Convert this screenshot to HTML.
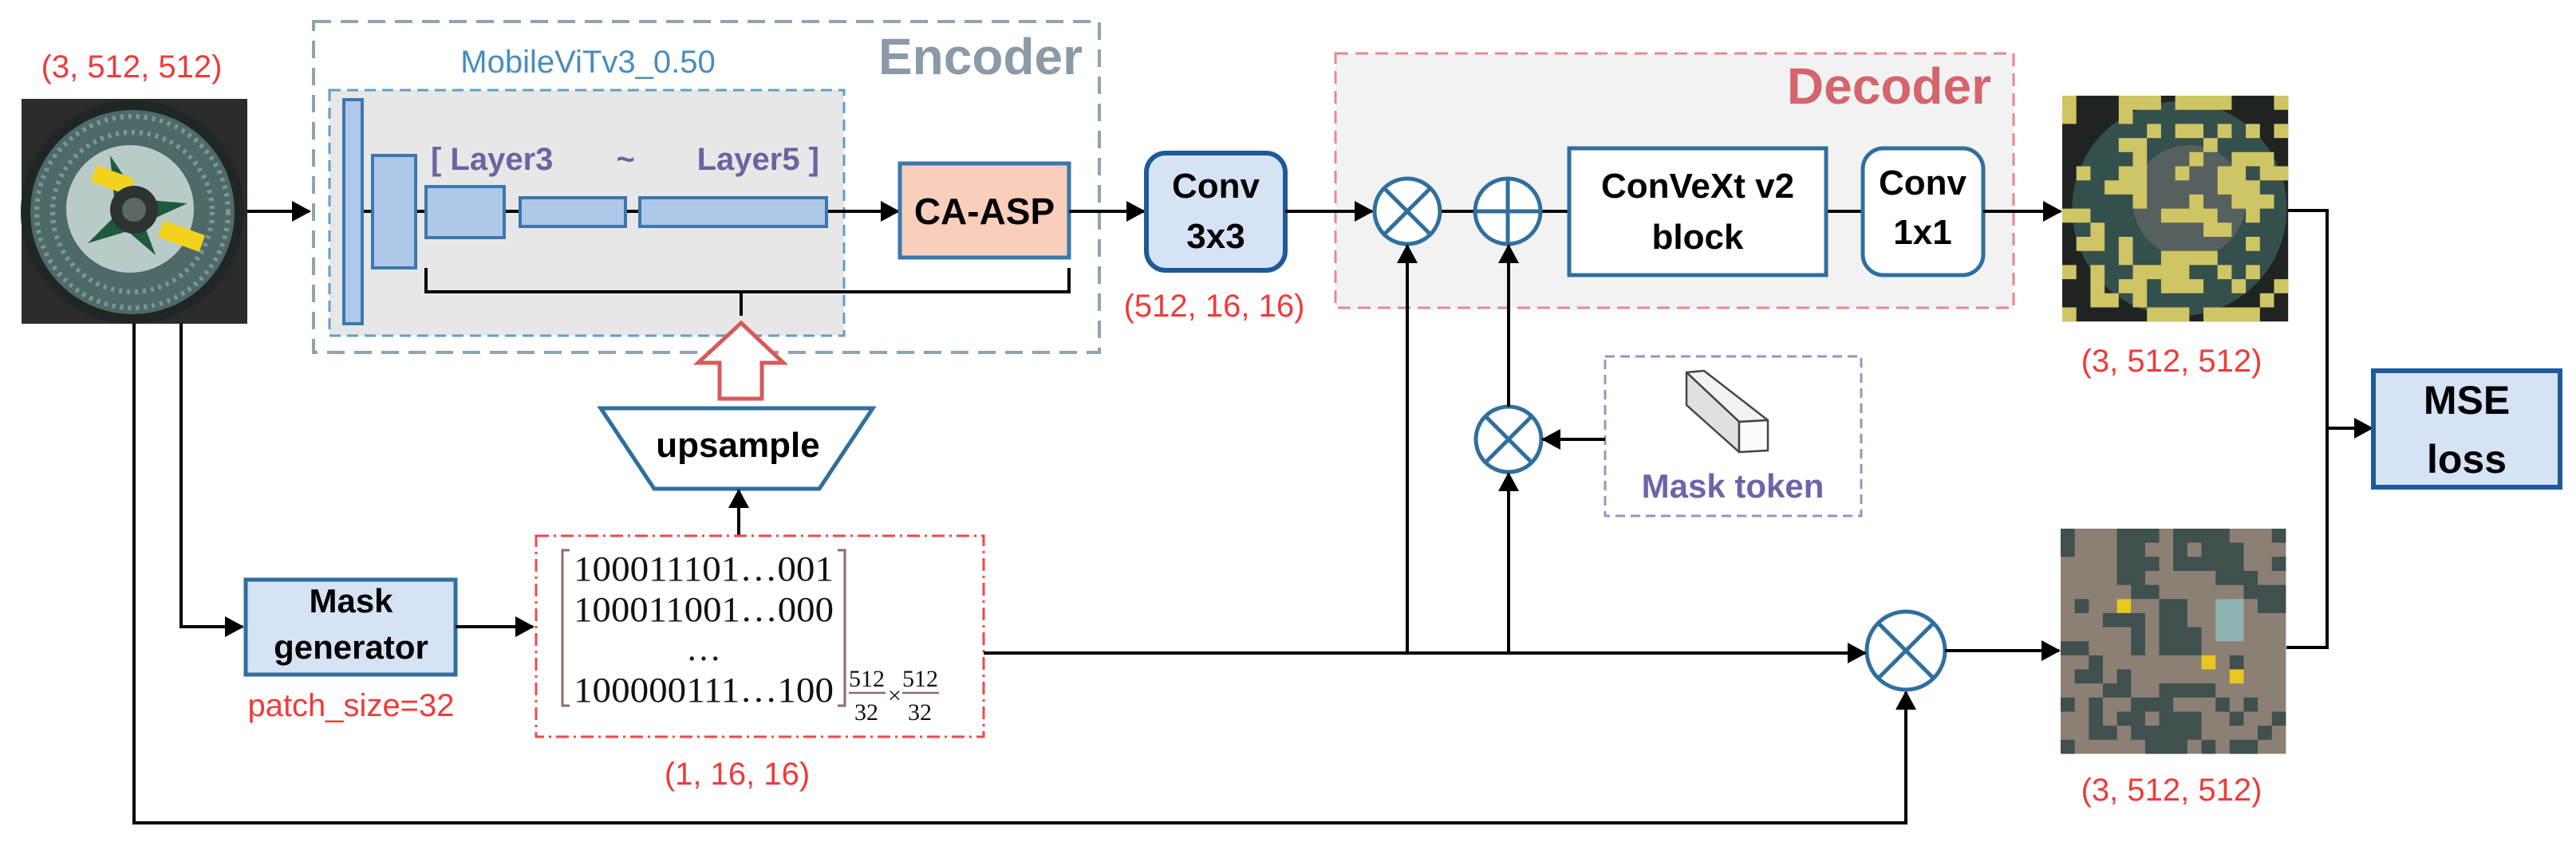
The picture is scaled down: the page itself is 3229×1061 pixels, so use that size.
<!DOCTYPE html>
<html><head><meta charset="utf-8"><style>html,body{margin:0;padding:0;background:#fff}svg{display:block}</style></head>
<body>
<svg width="3229" height="1061" viewBox="0 0 3229 1061" xmlns="http://www.w3.org/2000/svg" font-family="Liberation Sans, sans-serif">
<defs>
<marker id="ar" markerWidth="24" markerHeight="26" refX="22" refY="13" orient="auto" markerUnits="userSpaceOnUse">
<path d="M0,0 L24,13 L0,26 z" fill="#000"/></marker>
</defs>

<!-- Encoder -->
<rect x="393" y="27" width="985" height="415" fill="#fff" stroke="#8fa3b1" stroke-width="4" stroke-dasharray="22,12"/>
<text x="1357" y="93" text-anchor="end" font-size="64" font-weight="bold" fill="#8a9aa6">Encoder</text>
<text x="737" y="91" text-anchor="middle" font-size="40" fill="#4a8cbf">MobileViTv3_0.50</text>
<rect x="413" y="113" width="645" height="308" fill="#e7e7e7" stroke="#5f9fcb" stroke-width="3" stroke-dasharray="14,8"/>
<line x1="454" y1="265" x2="1126" y2="265" stroke="#000" stroke-width="4" marker-end="url(#ar)"/>
<g fill="#aec8ea" stroke="#3a78ad" stroke-width="4">
<rect x="431" y="125" width="23" height="281"/>
<rect x="467" y="195" width="54" height="141"/>
<rect x="534" y="234" width="98" height="64"/>
<rect x="652" y="248" width="132" height="36"/>
<rect x="802" y="248" width="234" height="36"/>
</g>
<g font-size="40" font-weight="bold" fill="#6a64a2">
<text x="540" y="213">[ Layer3</text>
<text x="784" y="213" text-anchor="middle">~</text>
<text x="1027" y="213" text-anchor="end">Layer5 ]</text>
</g>
<rect x="1128" y="205" width="212" height="118" fill="#f9cfbc" stroke="#3a78ad" stroke-width="5"/>
<text x="1234" y="281" text-anchor="middle" font-size="46" font-weight="bold">CA-ASP</text>
<path d="M534,336 V366 H1340 V336 M929,366 V396" fill="none" stroke="#000" stroke-width="4"/>
<path d="M929,405 L982,455 L955,455 L955,500 L902,500 L902,455 L875,455 Z" fill="#fff" stroke="#d9595a" stroke-width="5"/>

<!-- upsample -->
<path d="M753,512 L1094,512 L1027,613 L820,613 Z" fill="#fff" stroke="#2f6f9e" stroke-width="5"/>
<text x="925" y="573" text-anchor="middle" font-size="44" font-weight="bold">upsample</text>
<line x1="926" y1="672" x2="926" y2="615" stroke="#000" stroke-width="4" marker-end="url(#ar)"/>

<!-- input image -->
<g>
<rect x="27" y="124" width="283" height="282" fill="#2b2c2a"/>
<circle cx="166" cy="266" r="140" fill="#1f2624"/>
<circle cx="166" cy="266" r="128" fill="#4d6a68"/>
<circle cx="166" cy="266" r="120" fill="none" stroke="#7a9794" stroke-width="6" stroke-dasharray="4,6"/>
<circle cx="166" cy="266" r="100" fill="none" stroke="#7a9794" stroke-width="6" stroke-dasharray="4,6"/>
<circle cx="163" cy="262" r="80" fill="#b9cbc9"/>
<path d="M138,195 L175,250 L235,255 L180,280 L195,320 L160,290 L110,305 L145,270 Z" fill="#1d5a3c"/>
<rect x="116" y="215" width="50" height="22" fill="#f2d21c" transform="rotate(20 141 226)"/>
<rect x="200" y="285" width="55" height="22" fill="#f2d21c" transform="rotate(20 227 296)"/>
<circle cx="168" cy="263" r="30" fill="#2d3331"/>
<circle cx="168" cy="263" r="15" fill="#5b6866"/>
</g>
<text x="165" y="97" text-anchor="middle" font-size="40" fill="#f03a3a">(3, 512, 512)</text>
<line x1="310" y1="265" x2="388" y2="265" stroke="#000" stroke-width="4" marker-end="url(#ar)"/>

<!-- image down lines -->
<path d="M168,406 V1032 H2389 V868" fill="none" stroke="#000" stroke-width="4" marker-end="url(#ar)"/>
<path d="M227,406 V786 H304" fill="none" stroke="#000" stroke-width="4" marker-end="url(#ar)"/>

<!-- Mask generator -->
<rect x="308" y="727" width="263" height="119" fill="#d5e3f4" stroke="#2f6f9e" stroke-width="5"/>
<text x="440" y="768" text-anchor="middle" font-size="42" font-weight="bold">Mask</text>
<text x="440" y="826" text-anchor="middle" font-size="42" font-weight="bold">generator</text>
<text x="440" y="898" text-anchor="middle" font-size="40" fill="#f03a3a">patch_size=32</text>
<line x1="571" y1="786" x2="668" y2="786" stroke="#000" stroke-width="4" marker-end="url(#ar)"/>

<!-- mask matrix -->
<rect x="672" y="672" width="561" height="252" fill="#fff" stroke="#f04848" stroke-width="3" stroke-dasharray="16,6,3,6"/>
<path d="M714,690 H705 V885 H714 M1050,690 H1059 V885 H1050" fill="none" stroke="#8a6d6a" stroke-width="3"/>
<g font-family="Liberation Serif, serif" font-size="44" fill="#111">
<text x="719" y="728" textLength="326" lengthAdjust="spacingAndGlyphs">100011101…001</text>
<text x="719" y="779" textLength="326" lengthAdjust="spacingAndGlyphs">100011001…000</text>
<text x="882" y="828" text-anchor="middle">…</text>
<text x="719" y="880" textLength="326" lengthAdjust="spacingAndGlyphs">100000111…100</text>
<g font-size="30"><text x="1064" y="861">512</text><text x="1071" y="903">32</text>
<text x="1113" y="882">×</text><text x="1131" y="861">512</text><text x="1138" y="903">32</text></g>
</g>
<path d="M1064,869 H1110 M1131,869 H1177" stroke="#8a6d6a" stroke-width="2.5"/>
<text x="924" y="984" text-anchor="middle" font-size="40" fill="#f03a3a">(1, 16, 16)</text>

<!-- Conv3x3 -->
<line x1="1340" y1="265" x2="1434" y2="265" stroke="#000" stroke-width="4" marker-end="url(#ar)"/>
<rect x="1437" y="192" width="174" height="147" rx="24" fill="#d5e3f4" stroke="#1e5a9a" stroke-width="6"/>
<text x="1524" y="248" text-anchor="middle" font-size="44" font-weight="bold">Conv</text>
<text x="1524" y="311" text-anchor="middle" font-size="44" font-weight="bold">3x3</text>
<text x="1522" y="397" text-anchor="middle" font-size="40" fill="#f03a3a">(512, 16, 16)</text>

<!-- Decoder -->
<rect x="1674" y="67" width="850" height="319" fill="#f2f2f2" stroke="#e38a8e" stroke-width="3" stroke-dasharray="16,9"/>
<text x="2496" y="130" text-anchor="end" font-size="64" font-weight="bold" fill="#d4656b">Decoder</text>
<line x1="1611" y1="265" x2="1720" y2="265" stroke="#000" stroke-width="4" marker-end="url(#ar)"/>
<line x1="1805" y1="265" x2="1967" y2="265" stroke="#000" stroke-width="4"/>
<line x1="2290" y1="265" x2="2335" y2="265" stroke="#000" stroke-width="4"/>
<g fill="#fff" stroke="#2f6f9e" stroke-width="5">
<circle cx="1764" cy="265" r="41"/>
<path d="M1735,236 L1793,294 M1793,236 L1735,294"/>
<circle cx="1890" cy="265" r="41"/>
<path d="M1849,265 H1931 M1890,224 V306"/>
<circle cx="1891" cy="551" r="41"/>
<path d="M1862,522 L1920,580 M1920,522 L1862,580"/>
<circle cx="2389" cy="816" r="49"/>
<path d="M2354,781 L2424,851 M2424,781 L2354,851"/>
</g>
<rect x="1967" y="186" width="322" height="159" fill="#fff" stroke="#2f6f9e" stroke-width="5"/>
<text x="2128" y="248" text-anchor="middle" font-size="44" font-weight="bold">ConVeXt v2</text>
<text x="2128" y="312" text-anchor="middle" font-size="44" font-weight="bold">block</text>
<rect x="2335" y="186" width="151" height="159" rx="26" fill="#fff" stroke="#2f6f9e" stroke-width="5"/>
<text x="2410" y="244" text-anchor="middle" font-size="44" font-weight="bold">Conv</text>
<text x="2410" y="306" text-anchor="middle" font-size="44" font-weight="bold">1x1</text>
<line x1="2486" y1="265" x2="2583" y2="265" stroke="#000" stroke-width="4" marker-end="url(#ar)"/>

<!-- verticals -->
<line x1="1764" y1="819" x2="1764" y2="308" stroke="#000" stroke-width="4" marker-end="url(#ar)"/>
<line x1="1891" y1="819" x2="1891" y2="594" stroke="#000" stroke-width="4" marker-end="url(#ar)"/>
<line x1="1891" y1="510" x2="1891" y2="308" stroke="#000" stroke-width="4" marker-end="url(#ar)"/>
<line x1="1233" y1="819" x2="2338" y2="819" stroke="#000" stroke-width="4" marker-end="url(#ar)"/>
<line x1="2438" y1="816" x2="2581" y2="816" stroke="#000" stroke-width="4" marker-end="url(#ar)"/>

<!-- Mask token -->
<rect x="2012" y="447" width="321" height="200" fill="#fff" stroke="#9a91c9" stroke-width="3" stroke-dasharray="12,7"/>
<g stroke="#444" stroke-width="2.5" stroke-linejoin="round">
<path d="M2114,467 L2136,465 L2216,527 L2180,529 Z" fill="#f2f2f2"/>
<path d="M2114,467 L2180,529 L2180,567 L2114,508 Z" fill="#e0e0e0"/>
<path d="M2180,529 L2216,527 L2216,565 L2180,567 Z" fill="#fafafa"/>
</g>
<text x="2172" y="624" text-anchor="middle" font-size="42" font-weight="bold" fill="#6a66a8">Mask token</text>
<line x1="2012" y1="551" x2="1934" y2="551" stroke="#000" stroke-width="4" marker-end="url(#ar)"/>

<!-- output image 1 -->
<g transform="translate(2585,120) scale(17.7)">
<rect width="16" height="16" fill="#1f2422"/>
<circle cx="8.3" cy="8" r="7.6" fill="#34504c"/>
<circle cx="9" cy="7.5" r="4" fill="#56605e"/>
<path fill="#cfc565" d="M0,0h1v2h-1zM4,0h3v1h-3zM8,0h4v1h-4zM15,0h1v1h-1zM0,1h1v1h-1zM4,1h1v1h-1zM15,2h1v1h-1zM6,2h1v1h-1zM8,2h2v1h-2zM11,2h1v1h-1zM13,2h1v1h-1zM4,3h2v1h-2zM10,3h1v1h-1zM5,4h1v2h-1zM9,4h1v1h-1zM12,4h3v1h-3zM1,5h1v1h-1zM4,5h1v1h-1zM8,5h1v1h-1zM11,5h2v1h-2zM14,5h2v1h-2zM3,6h3v1h-3zM11,6h3v1h-3zM5,7h1v1h-1zM9,7h1v1h-1zM12,7h3v1h-3zM0,8h2v1h-2zM7,8h4v1h-4zM13,8h1v1h-1zM2,9h1v1h-1zM10,9h2v1h-2zM1,10h2v1h-2zM4,10h1v1h-1zM13,10h1v1h-1zM4,11h1v1h-1zM7,11h4v1h-4zM0,12h1v1h-1zM2,12h1v1h-1zM5,12h4v1h-4zM11,12h1v1h-1zM13,12h1v1h-1zM2,13h1v1h-1zM4,13h2v1h-2zM7,13h3v1h-3zM12,13h1v1h-1zM15,13h1v1h-1zM2,14h2v1h-2zM5,14h1v1h-1zM14,14h1v1h-1zM0,15h1v1h-1zM6,15h3v1h-3zM10,15h4v1h-4z"/>
</g>
<text x="2722" y="466" text-anchor="middle" font-size="40" fill="#f03a3a">(3, 512, 512)</text>

<!-- output image 2 -->
<g transform="translate(2583,663) scale(17.65)">
<rect width="16" height="16" fill="#8b8073"/>
<path fill="#3f504e" d="M0,0h1v2h-1zM4,0h3v1h-3zM8,0h4v1h-4zM15,0h1v1h-1zM4,1h2v1h-2zM8,1h1v1h-1zM10,1h3v1h-3zM4,2h3v1h-3zM8,2h5v1h-5zM15,2h1v1h-1zM4,3h2v1h-2zM11,3h3v1h-3zM5,4h2v1h-2zM13,4h3v1h-3zM1,5h1v1h-1zM4,5h1v1h-1zM7,5h2v1h-2zM11,5h1v1h-1zM14,5h2v1h-2zM3,6h3v1h-3zM7,6h2v1h-2zM5,7h1v1h-1zM7,7h3v1h-3zM0,8h2v1h-2zM5,8h1v1h-1zM7,8h3v1h-3zM2,9h1v1h-1zM12,9h1v1h-1zM1,10h2v1h-2zM4,10h1v1h-1zM3,11h2v1h-2zM7,11h4v1h-4zM0,12h1v1h-1zM2,12h1v1h-1zM5,12h3v1h-3zM11,12h1v1h-1zM13,12h1v1h-1zM2,13h1v1h-1zM4,13h2v1h-2zM7,13h3v1h-3zM12,13h1v1h-1zM15,13h1v1h-1zM2,14h2v1h-2zM5,14h5v1h-5zM14,14h1v1h-1zM0,15h1v1h-1zM6,15h3v1h-3zM10,15h1v1h-1zM12,15h2v1h-2z"/>
<path fill="#8fb4b2" d="M11,5h2v3h-2z"/>
<path fill="#e8c820" d="M4,5h1v1h-1zM10,9h1v1h-1zM12,10h1v1h-1z"/>
</g>
<text x="2722" y="1004" text-anchor="middle" font-size="40" fill="#f03a3a">(3, 512, 512)</text>

<!-- to MSE -->
<path d="M2868,264 H2917 V812 H2866" fill="none" stroke="#000" stroke-width="4"/>
<line x1="2917" y1="537" x2="2973" y2="537" stroke="#000" stroke-width="4" marker-end="url(#ar)"/>
<rect x="2975" y="465" width="234" height="146" fill="#d5e3f4" stroke="#1e5a9a" stroke-width="6"/>
<text x="3092" y="519" text-anchor="middle" font-size="50" font-weight="bold">MSE</text>
<text x="3092" y="593" text-anchor="middle" font-size="50" font-weight="bold">loss</text>
</svg>
</body></html>
